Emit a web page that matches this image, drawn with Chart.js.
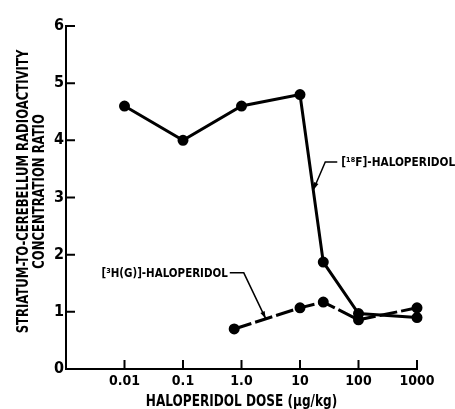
<!DOCTYPE html>
<html>
<head>
<meta charset="utf-8">
<script src="https://cdn.jsdelivr.net/npm/chart.js@4.4.1/dist/chart.umd.min.js"></script>
<style>
  html, body { margin: 0; padding: 0; background: #fff; }
  #wrap { width: 455px; height: 409px; position: relative; }
</style>
</head>
<body>
<div id="wrap"><canvas id="chart"></canvas></div>
<script>
// dose axis (µg/kg, log scale)
const doseTicks = [0.01, 0.1, 1, 10, 100, 1000];
const doseLabels = ['0.01', '0.1', '1.0', '10', '100', '1000'];
const ratioTicks = [0, 1, 2, 3, 4, 5, 6];

// [18F]-haloperidol
const f18Dose = [0.01, 0.1, 1, 10, 25, 100, 1000];
const f18Ratio = [4.6, 4.0, 4.6, 4.8, 1.87, 0.97, 0.9];

// [3H(G)]-haloperidol
const h3Dose = [0.75, 10, 25, 100, 1000];
const h3Ratio = [0.7, 1.07, 1.17, 0.86, 1.07];

const xTitle = 'HALOPERIDOL DOSE (µg/kg)';
const yTitle = ['STRIATUM-TO-CEREBELLUM RADIOACTIVITY', 'CONCENTRATION RATIO'];

const FONT = "'Liberation Sans Narrow', 'DejaVu Sans Condensed', sans-serif";

function toPoints(xs, ys) {
    return xs.map((x, i) => ({ x: x, y: ys[i] }));
}

// condensed text, like the old typeset lettering
function squeeze(ctx, text, x, y, sx, rot) {
    ctx.save();
    ctx.translate(x, y);
    ctx.rotate(rot);
    ctx.scale(sx, 1);
    ctx.fillText(text, 0, 0);
    ctx.restore();
}

// inward tick marks, axis titles + leader-line labels
const decorations = {
    id: 'decorations',
    afterDraw(chart) {
        const ctx = chart.ctx;
        const xs = chart.scales.x;
        const ys = chart.scales.y;
        const area = chart.chartArea;
        ctx.save();
        ctx.strokeStyle = '#000';
        ctx.fillStyle = '#000';
        ctx.lineWidth = 2;
        ctx.beginPath();
        ratioTicks.forEach(v => {
            if (v === 0) return;
            const py = ys.getPixelForValue(v);
            ctx.moveTo(area.left, py);
            ctx.lineTo(area.left + 9, py);
        });
        doseTicks.forEach(v => {
            const px = xs.getPixelForValue(v);
            ctx.moveTo(px, area.bottom);
            ctx.lineTo(px, area.bottom - 9);
        });
        ctx.stroke();

        // axis titles
        ctx.font = 'bold 16px ' + FONT;
        ctx.textAlign = 'center';
        ctx.textBaseline = 'middle';
        const midY = (area.top + area.bottom) / 2 - 6;
        squeeze(ctx, yTitle[0], 24, midY, 0.81, -Math.PI / 2);
        squeeze(ctx, yTitle[1], 40, midY, 0.81, -Math.PI / 2);
        squeeze(ctx, xTitle, (area.left + area.right) / 2, 402, 0.84, 0);

        // point on a segment between two data points
        function along(ds, i, t) {
            const pts = chart.getDatasetMeta(ds).data;
            return {
                x: pts[i].x + (pts[i + 1].x - pts[i].x) * t,
                y: pts[i].y + (pts[i + 1].y - pts[i].y) * t
            };
        }
        function leader(a, elbow, end) {
            ctx.lineWidth = 1.5;
            ctx.beginPath();
            ctx.moveTo(a.x, a.y);
            ctx.lineTo(a.x + elbow[0], a.y + elbow[1]);
            ctx.lineTo(a.x + end[0], a.y + end[1]);
            ctx.stroke();
            const ang = Math.atan2(-elbow[1], -elbow[0]);
            ctx.beginPath();
            ctx.moveTo(a.x, a.y);
            ctx.lineTo(a.x - 8 * Math.cos(ang - 0.3), a.y - 8 * Math.sin(ang - 0.3));
            ctx.lineTo(a.x - 8 * Math.cos(ang + 0.3), a.y - 8 * Math.sin(ang + 0.3));
            ctx.closePath();
            ctx.fill();
        }
        ctx.font = 'bold 13px ' + FONT;

        const fa = along(0, 3, 0.57);
        leader(fa, [12, -28], [24, -28]);
        ctx.textAlign = 'left';
        squeeze(ctx, '[¹⁸F]-HALOPERIDOL', fa.x + 28, fa.y - 27, 0.9, 0);

        const ha = along(1, 0, 0.48);
        leader(ha, [-22, -46], [-36, -46]);
        ctx.textAlign = 'right';
        squeeze(ctx, '[³H(G)]-HALOPERIDOL', ha.x - 38, ha.y - 45, 0.88, 0);
        ctx.restore();
    }
};

new Chart(document.getElementById('chart'), {
    type: 'line',
    data: {
        datasets: [
            {
                label: '[18F]-Haloperidol',
                data: toPoints(f18Dose, f18Ratio),
                borderColor: '#000',
                backgroundColor: '#000',
                borderWidth: 3,
                pointRadius: 4,
                pointHoverRadius: 4,
                tension: 0
            },
            {
                label: '[3H(G)]-Haloperidol',
                data: toPoints(h3Dose, h3Ratio),
                borderColor: '#000',
                backgroundColor: '#000',
                borderWidth: 3,
                borderDash: [18, 4],
                pointRadius: 4,
                pointHoverRadius: 4,
                tension: 0
            }
        ]
    },
    options: {
        responsive: true,
        maintainAspectRatio: false,
        animation: false,
        clip: false,
        layout: {
            padding: { top: 26, right: 38, left: 0, bottom: 0 }
        },
        plugins: {
            legend: { display: false },
            tooltip: { enabled: false }
        },
        scales: {
            x: {
                type: 'logarithmic',
                min: 0.001,
                max: 1000,
                afterFit: s => { s.height = 40; },
                afterBuildTicks: s => {
                    s.ticks = doseTicks.map(v => ({ value: v }));
                },
                grid: { display: true, drawOnChartArea: false, drawTicks: false },
                border: { display: true, color: '#000', width: 2 },
                ticks: {
                    autoSkip: false,
                    maxRotation: 0,
                    padding: 4,
                    color: '#000',
                    font: { family: FONT, size: 14, weight: 'bold' },
                    callback: v => doseLabels[doseTicks.indexOf(v)]
                }
            },
            y: {
                min: 0,
                max: 6,
                afterFit: s => { s.width = 66; },
                afterBuildTicks: s => {
                    s.ticks = ratioTicks.map(v => ({ value: v }));
                },
                grid: { display: true, drawOnChartArea: false, drawTicks: false },
                border: { display: true, color: '#000', width: 2 },
                ticks: {
                    padding: 2,
                    color: '#000',
                    font: { family: FONT, size: 16, weight: 'bold' }
                }
            }
        }
    },
    plugins: [decorations]
});
</script>
</body>
</html>
